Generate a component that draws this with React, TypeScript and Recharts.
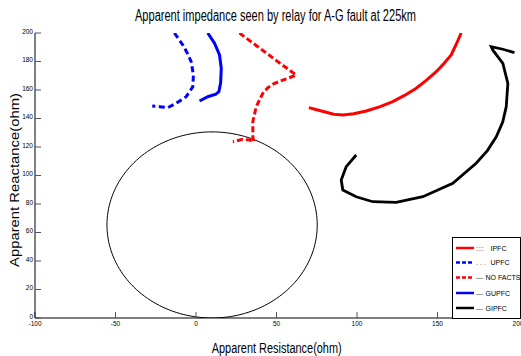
import React from 'react';
import { LineChart, Line, XAxis, YAxis } from 'recharts';

const X_TICKS = [-100, -50, 0, 50, 100, 150, 200];
const Y_TICKS = [0, 20, 40, 60, 80, 100, 120, 140, 160, 180, 200];

const ipfc = [
  { x: 164.7, y: 200 }, { x: 162.0, y: 193.0 }, { x: 158.5, y: 184.6 }, { x: 154.0, y: 178.6 },
  { x: 149.2, y: 172.8 }, { x: 143.0, y: 166.8 }, { x: 136.8, y: 161.2 }, { x: 129.5, y: 156.2 },
  { x: 122.2, y: 151.8 }, { x: 114.0, y: 148.2 }, { x: 105.7, y: 145.3 }, { x: 98.0, y: 143.4 },
  { x: 91.2, y: 142.5 }, { x: 85.5, y: 143.0 }, { x: 80.9, y: 144.4 }, { x: 75.5, y: 146.0 },
  { x: 70.1, y: 147.6 },
];

const upfc = [
  { x: -13.4, y: 200 }, { x: -8.2, y: 191.6 }, { x: -5.2, y: 185.5 }, { x: -3.0, y: 179.9 },
  { x: -1.6, y: 170.5 }, { x: -2.0, y: 162.3 }, { x: -6.1, y: 155.3 }, { x: -12.3, y: 150.7 },
  { x: -17.5, y: 147.6 }, { x: -22.7, y: 148.3 }, { x: -27.2, y: 148.8 },
];

const noFacts = [
  { x: 27.0, y: 200 }, { x: 38.4, y: 190.4 }, { x: 50.8, y: 179.9 }, { x: 62.2, y: 170.5 },
  { x: 57.0, y: 168.2 }, { x: 48.8, y: 164.7 }, { x: 44.5, y: 161.5 }, { x: 41.5, y: 157.7 },
  { x: 37.4, y: 148.3 }, { x: 35.3, y: 137.8 }, { x: 35.3, y: 127.2 }, { x: 35.9, y: 123.7 },
  { x: 33.0, y: 125.0 }, { x: 28.5, y: 125.3 }, { x: 22.9, y: 123.7 },
];

const gupfc = [
  { x: 7.3, y: 200 }, { x: 11.5, y: 192.8 }, { x: 14.6, y: 184.6 }, { x: 15.7, y: 175.2 },
  { x: 15.3, y: 165.0 }, { x: 14.2, y: 158.8 }, { x: 12.3, y: 157.0 }, { x: 7.3, y: 155.3 },
  { x: 2.2, y: 152.3 },
];

const gipfc = [
  { x: 99.5, y: 114.4 }, { x: 93.3, y: 106.2 }, { x: 90.2, y: 96.8 }, { x: 91.2, y: 89.8 },
  { x: 99.5, y: 85.1 }, { x: 109.8, y: 81.6 }, { x: 124.3, y: 81.2 }, { x: 140.9, y: 85.1 },
  { x: 159.5, y: 94.5 }, { x: 174.0, y: 108.6 }, { x: 181.0, y: 117.5 }, { x: 186.5, y: 127.2 },
  { x: 190.5, y: 137.5 }, { x: 192.7, y: 148.3 }, { x: 193.7, y: 164.7 }, { x: 190.6, y: 178.7 },
  { x: 184.3, y: 188.1 }, { x: 183.4, y: 190.4 }, { x: 190.6, y: 188.6 }, { x: 197.8, y: 186.2 },
];

// mho relay characteristic: circle given by centre and radius
const MHO_CENTER = { x: 10, y: 65.3 };
const MHO_RADIUS = 65.3;

const LEGEND = [
  { name: 'IPFC', prefix: '::::', color: '#ff0000', dash: undefined },
  { name: 'UPFC', prefix: '. . .', color: '#0000ff', dash: '4 2' },
  { name: 'NO FACTS', prefix: '—', color: '#ff0000', dash: '4 2' },
  { name: 'GUPFC', prefix: '—', color: '#0000ff', dash: undefined },
  { name: 'GIPFC', prefix: '—', color: '#000000', dash: undefined },
];

const TITLE = 'Apparent impedance seen by relay for A-G fault at 225km';
const X_LABEL = 'Apparent Resistance(ohm)';
const Y_LABEL = 'Apparent Reactance(ohm)';

const FONT = '"Liberation Sans Narrow", "Arial Narrow", "Liberation Sans", Arial, sans-serif';
const FONT_REG = '"Liberation Sans", Arial, sans-serif';

export default function App() {
  const circle = [] as { x: number; y: number }[];
  for (let i = 0; i <= 180; i++) {
    const t = (i / 180) * Math.PI * 2;
    circle.push({ x: MHO_CENTER.x + MHO_RADIUS * Math.cos(t), y: MHO_CENTER.y + MHO_RADIUS * Math.sin(t) });
  }
  const rowsY = [248, 262.5, 277.5, 293, 308];
  return (
    <div style={{ position: 'absolute', left: 0, top: 0, width: 521, height: 356, background: '#fff', overflow: 'hidden' }}>
      <LineChart width={524} height={356} margin={{ top: 33, right: 6, bottom: 18, left: 0 }}>
        <XAxis
          type="number"
          dataKey="x"
          domain={[-100, 200]}
          ticks={X_TICKS}
          interval={0}
          allowDataOverflow
          height={20}
          tickSize={-6}
          tickMargin={9}
          axisLine={{ stroke: '#000' }}
          tickLine={{ stroke: '#555' }}
          tick={{ fontSize: 6.5, fill: '#000', fontFamily: FONT }}
        />
        <YAxis
          type="number"
          dataKey="y"
          domain={[0, 200]}
          ticks={Y_TICKS}
          interval={0}
          allowDataOverflow
          width={35}
          tickSize={-6}
          tickMargin={8}
          axisLine={{ stroke: '#000' }}
          tickLine={{ stroke: '#555' }}
          tick={{ fontSize: 6.5, fill: '#000', fontFamily: FONT, dy: -1.5 }}
        />
        <Line data={circle} dataKey="y" type="linear" stroke="#000" strokeWidth={1} dot={false} isAnimationActive={false} />
        <Line data={ipfc} dataKey="y" type="linear" stroke="#ff0000" strokeWidth={3} dot={false} isAnimationActive={false} />
        <Line data={upfc} dataKey="y" type="linear" stroke="#0000ff" strokeWidth={3} strokeDasharray="6 3.5" dot={false} isAnimationActive={false} />
        <Line data={noFacts} dataKey="y" type="linear" stroke="#ff0000" strokeWidth={3} strokeDasharray="6 3" dot={false} isAnimationActive={false} />
        <Line data={gupfc} dataKey="y" type="linear" stroke="#0000ff" strokeWidth={3} dot={false} isAnimationActive={false} />
        <Line data={gipfc} dataKey="y" type="linear" stroke="#000" strokeWidth={2.8} dot={false} isAnimationActive={false} />
      </LineChart>
      <svg width={521} height={356} style={{ position: 'absolute', left: 0, top: 0, pointerEvents: 'none' }}>
        <text x={275.5} y={21} textAnchor="middle" fontSize={16} fontFamily={FONT_REG} fill="#000" textLength={281} lengthAdjust="spacingAndGlyphs">{TITLE}</text>
        <text x={276.7} y={353} textAnchor="middle" fontSize={14} fontFamily={FONT_REG} fill="#000" textLength={130} lengthAdjust="spacingAndGlyphs">{X_LABEL}</text>
        <text transform="translate(18.5,180) rotate(-90)" x={0} y={0} textAnchor="middle" fontSize={12.5} fontFamily={FONT_REG} fill="#000" textLength={174} lengthAdjust="spacingAndGlyphs">{Y_LABEL}</text>
        <rect x={452.5} y={237.5} width={68} height={81} fill="#fff" stroke="#000" strokeWidth={1} />
        {LEGEND.map((e, i) => (
          <g key={e.name}>
            <line x1={456} x2={474} y1={rowsY[i]} y2={rowsY[i]} stroke={e.color} strokeWidth={2.5} strokeDasharray={e.dash} />
            <text x={476} y={rowsY[i] + 2.5} fontSize={7} fontFamily={FONT} fill="#555">{e.prefix}</text>
            <text x={e.prefix === '—' ? 485.5 : 490.5} y={rowsY[i] + 2.5} fontSize={7} fontFamily={FONT} fill="#000">{e.name}</text>
          </g>
        ))}
      </svg>
    </div>
  );
}
